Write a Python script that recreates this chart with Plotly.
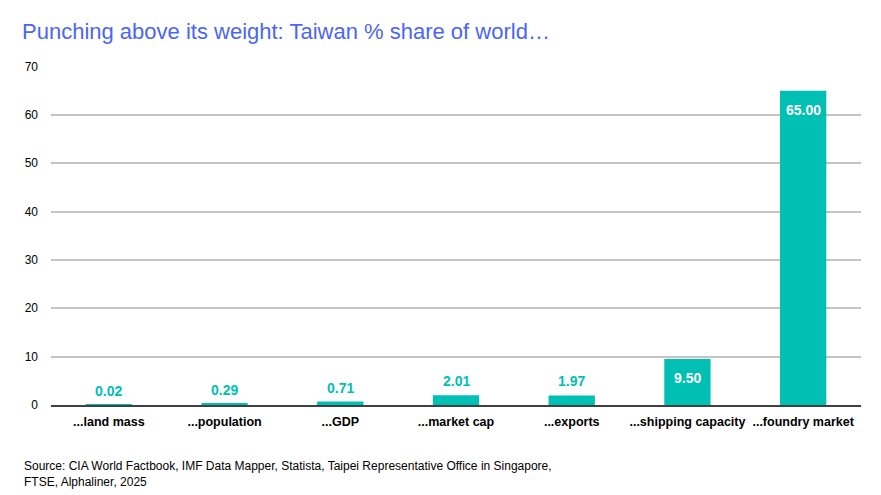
import plotly.graph_objects as go

categories = ["...land mass", "...population", "...GDP", "...market cap", "...exports",
              "...shipping capacity", "...foundry market"]
values = [0.02, 0.29, 0.71, 2.01, 1.97, 9.50, 65.00]
labels = ["0.02", "0.29", "0.71", "2.01", "1.97", "9.50", "65.00"]

TEAL = "#00BFB3"
FONT = "Liberation Sans, Arial"

# The page body has an 8px default margin, so the figure is sized/positioned to compensate.
W, H = 873, 487

fig = go.Figure(go.Bar(
    x=categories, y=values,
    marker=dict(color=TEAL, line=dict(width=0)),
    hoverinfo="skip",
))

for cat, v, lab in zip(categories, values, labels):
    is_inside = v > 5
    fig.add_annotation(
        x=cat, y=v, text=f"<b>{lab}</b>", showarrow=False,
        xref="x", yref="y",
        yanchor="middle",
        yshift=-19 if is_inside else 14,
        font=dict(family=FONT, size=14, color="white" if is_inside else TEAL),
    )

fig.update_layout(
    width=W, height=H,
    margin=dict(l=43, r=20, t=58, b=90, autoexpand=False),
    paper_bgcolor="white", plot_bgcolor="white",
    bargap=0.6,
    showlegend=False,
    font=dict(family=FONT, color="black"),
    title=dict(text="Punching above its weight: Taiwan % share of world…",
               x=14 / W, xanchor="left", xref="container",
               y=1 - 23 / H, yanchor="middle", yref="container",
               pad=dict(l=0, r=0, t=0, b=0),
               font=dict(size=22, color="#4A66F5", family=FONT)),
)

fig.update_xaxes(
    showgrid=False, showline=True, linecolor="#404040", linewidth=1.5,
    ticks="", tickangle=0, automargin=False,
    tickfont=dict(size=12.5, color="black", weight="bold"),
    ticklabelstandoff=4,
)
fig.update_yaxes(
    range=[0, 70.1], tickvals=[0, 10, 20, 30, 40, 50, 60, 70],
    showgrid=True, gridcolor="#C4C4C4", gridwidth=2, automargin=False,
    zeroline=False, showline=False, ticks="",
    tickfont=dict(size=12, color="black"), ticklabelstandoff=12,
)

fig.add_annotation(
    text="Source: CIA World Factbook, IMF Data Mapper, Statista, Taipei Representative Office in Singapore,<br>FTSE, Alphaliner, 2025",
    xref="paper", yref="paper", x=-29 / 810, y=-52 / 339, xanchor="left", yanchor="top",
    showarrow=False, align="left",
    font=dict(size=12, color="black", family=FONT),
)

fig.write_html("out.html")
